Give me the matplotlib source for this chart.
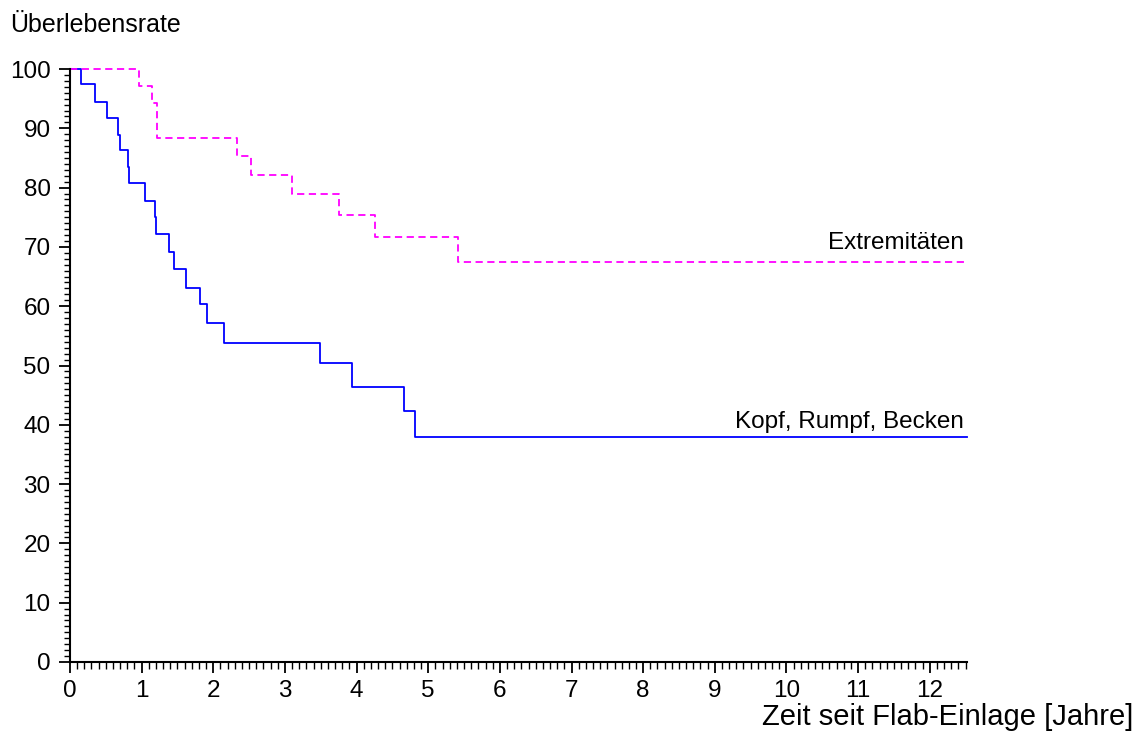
import numpy as np
import matplotlib.pyplot as plt
from matplotlib.ticker import MultipleLocator

plt.rcParams['font.family'] = ['Liberation Sans', 'DejaVu Sans']

# Kaplan-Meier steps (Jahre, Überlebensrate in %)
kopfTimes = [0, 0.15, 0.345, 0.52, 0.675, 0.70, 0.81, 0.83, 1.05, 1.18, 1.20,
             1.38, 1.45, 1.62, 1.82, 1.91, 2.15, 3.49, 3.93, 4.66, 4.82]
kopfSurv = [100, 97.4, 94.4, 91.7, 88.8, 86.3, 83.4, 80.7, 77.7, 75.1, 72.2,
            69.2, 66.3, 63.1, 60.3, 57.1, 53.8, 50.4, 46.4, 42.3, 37.9]

extrTimes = [0, 0.96, 1.14, 1.22, 2.33, 2.52, 3.10, 3.75, 4.26, 5.41]
extrSurv = [100, 97.2, 94.2, 88.3, 85.4, 82.2, 79.0, 75.4, 71.6, 67.4]

followUpEnd = 12.52
kopfLabel = 'Kopf, Rumpf, Becken'
extrLabel = 'Extremitäten'

fig = plt.figure(figsize=(11.41, 7.33), dpi=100)
ax = fig.add_axes([70 / 1141, 71 / 733, 897 / 1141, 593 / 733])

ax.step(kopfTimes + [followUpEnd], kopfSurv + [kopfSurv[-1]], where='post',
        color='#0000ff', lw=1.3, clip_on=False)
ax.step(extrTimes + [followUpEnd], extrSurv + [extrSurv[-1]], where='post',
        color='#ff00ff', lw=1.3, ls=(0, (4, 2.5)), clip_on=False)

ax.text(followUpEnd - 0.05, kopfSurv[-1] + 0.8, kopfLabel, ha='right', va='bottom', fontsize=17.5)
ax.text(followUpEnd - 0.05, extrSurv[-1] + 1.4, extrLabel, ha='right', va='bottom', fontsize=17.5)

ax.set_xlim(0, followUpEnd)
ax.set_ylim(0, 100)
ax.xaxis.set_major_locator(MultipleLocator(1))
ax.xaxis.set_minor_locator(MultipleLocator(0.1))
ax.yaxis.set_major_locator(MultipleLocator(10))
ax.yaxis.set_minor_locator(MultipleLocator(1))
ax.tick_params(which='major', direction='out', length=8, width=1.3, labelsize=17.5, pad=5)
ax.tick_params(which='minor', direction='out', length=5, width=1.0)
ax.tick_params(axis='y', which='major', pad=6)
ax.tick_params(axis='y', which='minor', length=4)

for s in ['top', 'right']:
    ax.spines[s].set_visible(False)
for s in ['left', 'bottom']:
    ax.spines[s].set_linewidth(1.5)

fig.text(10 / 1141, 1 - 25 / 733, 'Überlebensrate', ha='left', va='center', fontsize=18)
fig.text(1133 / 1141, 1 - 717 / 733, 'Zeit seit Flab-Einlage [Jahre]', ha='right', va='center', fontsize=21)

fig.savefig('out.png', dpi=100)
